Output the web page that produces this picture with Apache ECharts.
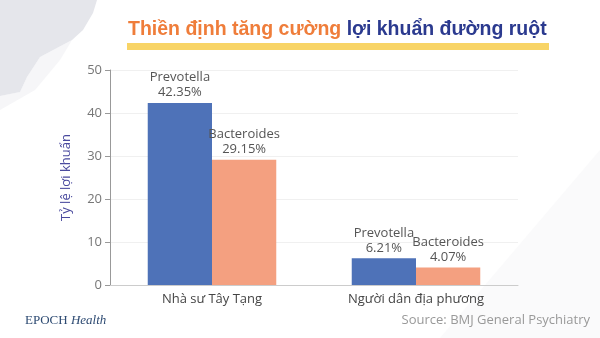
<!DOCTYPE html>
<html>
<head>
<meta charset="utf-8">
<script src="https://cdn.jsdelivr.net/npm/echarts@6/dist/echarts.min.js"></script>
<style>html,body{margin:0;padding:0;background:#fff}#c{width:600px;height:338px}</style>
</head>
<body>
<div id="c"></div>
<script>
const categories = ['Nhà sư Tây Tạng', 'Người dân địa phương'];
const seriesNames = ['Prevotella', 'Bacteroides'];
const prevotella = [42.35, 6.21];
const bacteroides = [29.15, 4.07];
const yTicks = { min: 0, max: 50, interval: 10 };

const chart = echarts.init(document.getElementById('c'));
const labelCfg = {
  show: true, position: 'top', distance: 3,
  formatter: p => p.seriesName + '\n' + p.value.toFixed(2) + '%',
  color: '#555', fontSize: 13, lineHeight: 15, fontFamily: 'Open Sans'
};
chart.setOption({
  animation: false,
  backgroundColor: '#fff',
  graphic: [
    { type: 'polygon', z: -10, shape: { points: [[0,0],[97,0],[93,13],[83,30],[72,40],[40,57],[27,77],[20,92],[0,96]] }, style: { fill: '#e5e6eb' } },
    { type: 'polygon', z: -11, shape: { points: [[0,96],[20,92],[27,77],[40,57],[72,40],[60,60],[35,90],[0,110]] }, style: { fill: '#f6f6f8' } },
    { type: 'polygon', z: -10, shape: { points: [[600,150],[600,338],[440,338]] }, style: { fill: '#fafafb' } },
    { type: 'rect', shape: { x: 127, y: 43, width: 422, height: 7 }, style: { fill: '#f8d466' } },
    { type: 'text', left: 128, top: 20, style: {
      text: '{o|Thiền định tăng cường }{b|lợi khuẩn đường ruột}',
      rich: {
        o: { fill: '#ef7d3a', fontSize: 19.5, fontWeight: 'bold', fontFamily: 'Liberation Sans' },
        b: { fill: '#2b3a8f', fontSize: 19.5, fontWeight: 'bold', fontFamily: 'Liberation Sans' }
      }
    } },
    { type: 'text', left: 25, top: 314, style: {
      text: '{a|EPOCH} {b|Health}',
      rich: {
        a: { fill: '#2d4a72', fontSize: 13, fontFamily: 'Liberation Serif' },
        b: { fill: '#2d4a72', fontSize: 13, fontFamily: 'Liberation Serif', fontStyle: 'italic' }
      }
    } },
    { type: 'text', right: 10, top: 314, style: {
      text: 'Source: BMJ General Psychiatry', fill: '#999', fontSize: 13, fontFamily: 'Open Sans'
    } }
  ],
  grid: { left: 110, right: 82, top: 70, bottom: 53 },
  xAxis: {
    type: 'category', data: categories,
    axisLine: { lineStyle: { color: '#ccc' } },
    axisTick: { show: false },
    axisLabel: { color: '#444', fontSize: 13, margin: 8, fontFamily: 'Open Sans' }
  },
  yAxis: {
    type: 'value', min: yTicks.min, max: yTicks.max, interval: yTicks.interval,
    name: 'Tỷ lệ lợi khuẩn', nameLocation: 'middle', nameGap: 37,
    nameTextStyle: { color: '#4a4a9e', fontSize: 13, fontFamily: 'Open Sans' },
    axisLine: { show: true, lineStyle: { color: '#999' } },
    axisTick: { show: true, length: 5, lineStyle: { color: '#999' } },
    axisLabel: { color: '#777', fontSize: 13, margin: 8, fontFamily: 'Open Sans' },
    splitLine: { lineStyle: { color: '#f0f0f0' } }
  },
  series: [
    { name: seriesNames[0], type: 'bar', data: prevotella, barGap: '0%', barCategoryGap: '37%',
      itemStyle: { color: '#4e72b8' }, label: labelCfg },
    { name: seriesNames[1], type: 'bar', data: bacteroides,
      itemStyle: { color: '#f4a080' }, label: labelCfg }
  ]
});
</script>
</body>
</html>
